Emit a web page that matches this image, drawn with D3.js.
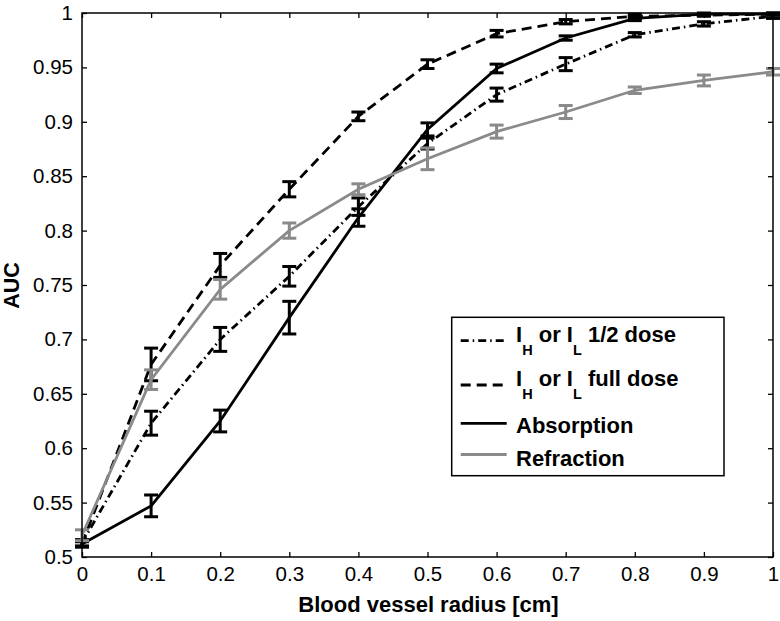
<!DOCTYPE html>
<html><head><meta charset="utf-8">
<script src="https://cdn.jsdelivr.net/npm/d3@7"></script>
<style>
body{margin:0;background:#fff;}
svg{display:block;font-family:"Liberation Sans",Arial,Helvetica,sans-serif;}
</style></head>
<body><svg id="c" width="780" height="621"></svg>
<script>
const radius = [0,0.1,0.2,0.3,0.4,0.5,0.6,0.7,0.8,0.9,1.0];
const halfDose = [0.513,0.623,0.700,0.758,0.822,0.880,0.925,0.953,0.980,0.990,0.997];
const halfErr  = [0.003,0.011,0.011,0.009,0.008,0.005,0.006,0.006,0.002,0.002,0.002];
const fullDose = [0.512,0.677,0.768,0.838,0.905,0.953,0.981,0.992,0.997,0.998,0.999];
const fullErr  = [0.003,0.015,0.011,0.007,0.004,0.004,0.003,0.002,0.002,0.001,0.001];
const absorption = [0.512,0.547,0.625,0.720,0.812,0.893,0.949,0.977,0.995,0.999,0.999];
const absErr     = [0.002,0.010,0.010,0.015,0.008,0.006,0.004,0.002,0.002,0.001,0.001];
const refraction = [0.520,0.663,0.746,0.800,0.838,0.866,0.891,0.909,0.929,0.938,0.946];
const refErr     = [0.005,0.009,0.009,0.007,0.005,0.010,0.006,0.006,0.003,0.005,0.003];
const xTicks = [0,0.1,0.2,0.3,0.4,0.5,0.6,0.7,0.8,0.9,1];
const yTicks = [0.5,0.55,0.6,0.65,0.7,0.75,0.8,0.85,0.9,0.95,1];
const xLabel = "Blood vessel radius [cm]";
const yLabel = "AUC";

const L=82, R=773, T=13, B=557;
const svg = d3.select("#c");
const x = d3.scaleLinear().domain([0,1]).range([L,R]);
const y = d3.scaleLinear().domain([0.5,1]).range([B,T]);
const grey = "#8a8a8a";

const series = [
  {name:"half", v:halfDose, e:halfErr, color:"#000", dash:"8,4,1.5,4"},
  {name:"full", v:fullDose, e:fullErr, color:"#000", dash:"10,6"},
  {name:"abs", v:absorption, e:absErr, color:"#000", dash:null},
  {name:"ref", v:refraction, e:refErr, color:grey, dash:null}
];

const plot = svg.append("g");
const line = d3.line().x((d,i)=>x(radius[i])).y(d=>y(d));
series.forEach(s=>{
  plot.append("path").attr("d", line(s.v)).attr("fill","none")
    .attr("stroke", s.color).attr("stroke-width",2.8)
    .attr("stroke-dasharray", s.dash);
  const g = plot.append("g").attr("stroke", s.color).attr("stroke-width",3).attr("fill","none");
  s.v.forEach((v,i)=>{
    const cx = x(radius[i]), y1 = y(v+s.e[i]), y2 = y(v-s.e[i]);
    g.append("line").attr("x1",cx).attr("x2",cx).attr("y1",y1).attr("y2",y2);
    g.append("line").attr("x1",cx-7).attr("x2",cx+7).attr("y1",y1).attr("y2",y1);
    g.append("line").attr("x1",cx-7).attr("x2",cx+7).attr("y1",y2).attr("y2",y2);
  });
});

// axes
const fmt = d=>String(+d.toFixed(2));
const axB = svg.append("g").attr("transform",`translate(0,${B})`)
  .call(d3.axisBottom(x).tickValues(xTicks).tickFormat(fmt).tickSizeInner(-5).tickSizeOuter(0).tickPadding(9));
const axT = svg.append("g").attr("transform",`translate(0,${T})`)
  .call(d3.axisTop(x).tickValues(xTicks).tickFormat("").tickSizeInner(-5).tickSizeOuter(0));
const axLft = svg.append("g").attr("transform",`translate(${L},0)`)
  .call(d3.axisLeft(y).tickValues(yTicks).tickFormat(fmt).tickSizeInner(-5).tickSizeOuter(0).tickPadding(9));
const axRgt = svg.append("g").attr("transform",`translate(${R},0)`)
  .call(d3.axisRight(y).tickValues(yTicks).tickFormat("").tickSizeInner(-5).tickSizeOuter(0));
[axB,axT,axLft,axRgt].forEach(a=>{
  a.select(".domain").remove();
  a.selectAll("line").attr("stroke","#000").attr("stroke-width",1.3);
  a.selectAll("text").attr("font-size",20.5).attr("font-family","Liberation Sans, Arial, sans-serif").attr("fill","#000");
});
svg.append("rect").attr("x",L).attr("y",T).attr("width",R-L).attr("height",B-T)
  .attr("fill","none").attr("stroke","#000").attr("stroke-width",1.5);

svg.append("text").attr("x",(L+R)/2+1).attr("y",612).attr("text-anchor","middle")
  .attr("font-size",22).attr("font-weight","bold").text(xLabel);
svg.append("text").attr("transform","translate(18.5,285.5) rotate(-90)").attr("text-anchor","middle")
  .attr("font-size",21.5).attr("font-weight","bold").text(yLabel);

// legend
const lg = svg.append("g");
lg.append("rect").attr("x",451.7).attr("y",317.3).attr("width",272.3).attr("height",158.4)
  .attr("fill","#fff").attr("stroke","#000").attr("stroke-width",1.5);
const legendRows = [
  {s:series[0], ly:340.7, ty:341.7, parts:[["I",0],["H",1],[" or I",0],["L",1],[" 1/2 dose",0]]},
  {s:series[1], ly:385, ty:386, parts:[["I",0],["H",1],[" or I",0],["L",1],[" full dose",0]]},
  {s:series[2], ly:423.3, ty:433.3, parts:[["Absorption",0]]},
  {s:series[3], ly:454.5, ty:466, parts:[["Refraction",0]]}
];
legendRows.forEach(r=>{
  lg.append("line").attr("x1",460.7).attr("x2",506.7).attr("y1",r.ly).attr("y2",r.ly)
    .attr("stroke",r.s.color).attr("stroke-width",2.8).attr("stroke-dasharray",r.s.dash);
  const t = lg.append("text").attr("x",516).attr("y",r.ty).attr("font-weight","bold")
    .attr("font-size",22).attr("xml:space","preserve").style("white-space","pre");
  let sub=false;
  r.parts.forEach(p=>{
    const ts = t.append("tspan").text(p[0]);
    if(p[1]){ ts.attr("font-size",14.5).attr("dy",13); sub=true; }
    else if(sub){ ts.attr("dy",-13); sub=false; }
  });
});
</script></body></html>
